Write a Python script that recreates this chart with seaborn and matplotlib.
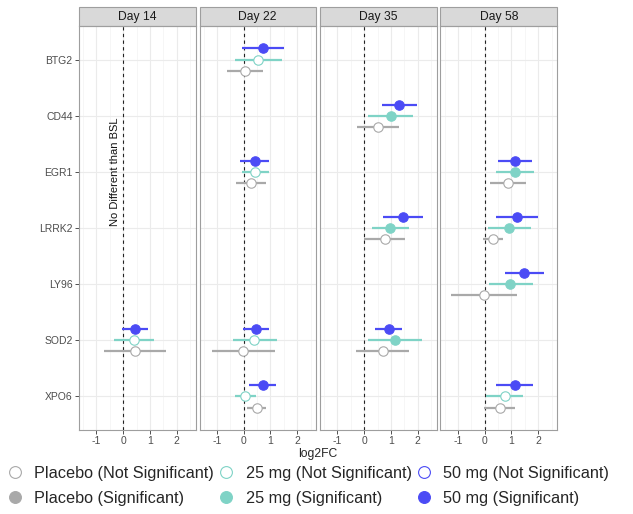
import pandas as pd
import seaborn as sns
import matplotlib.pyplot as plt
from matplotlib.lines import Line2D
from matplotlib.patches import Rectangle

# Genes (top to bottom) and time point panels
genes = ['BTG2', 'CD44', 'EGR1', 'LRRK2', 'LY96', 'SOD2', 'XPO6']
days = ['Day 14', 'Day 22', 'Day 35', 'Day 58']
doses = ['Placebo', '25 mg', '50 mg']
dose_colors = {'Placebo': '#A9A9A9', '25 mg': '#7FD3C6', '50 mg': '#4B4BF5'}
dose_offset = {'50 mg': -0.2, '25 mg': 0.0, 'Placebo': 0.2}

# Estimates: log2FC with lower / upper bounds
row_day = ['Day 14'] * 3 + ['Day 22'] * 12 + ['Day 35'] * 9 + ['Day 58'] * 12
row_gene = (['SOD2'] * 3
            + ['BTG2'] * 3 + ['EGR1'] * 3 + ['SOD2'] * 3 + ['XPO6'] * 3
            + ['CD44'] * 3 + ['LRRK2'] * 3 + ['SOD2'] * 3
            + ['EGR1'] * 3 + ['LRRK2'] * 3 + ['LY96'] * 3 + ['XPO6'] * 3)
row_dose = ['50 mg', '25 mg', 'Placebo'] * 12
row_fc = [0.43, 0.41, 0.43,
          0.71, 0.55, 0.05, 0.41, 0.44, 0.28, 0.46, 0.40, -0.01, 0.71, 0.06, 0.48,
          1.31, 0.99, 0.51, 1.44, 0.98, 0.79, 0.91, 1.14, 0.69,
          1.12, 1.14, 0.86, 1.22, 0.91, 0.31, 1.47, 0.96, -0.01, 1.12, 0.74, 0.56]
row_lo = [-0.04, -0.33, -0.71,
          -0.08, -0.33, -0.63, -0.14, -0.06, -0.29, -0.01, -0.41, -1.20, 0.21, -0.31, 0.13,
          0.66, 0.16, -0.28, 0.69, 0.28, 0.00, 0.40, 0.13, -0.31,
          0.51, 0.43, 0.20, 0.43, 0.11, -0.05, 0.75, 0.16, -1.26, 0.44, 0.04, -0.04]
row_hi = [0.91, 1.15, 1.61,
          1.50, 1.43, 0.71, 0.96, 0.94, 0.84, 0.96, 1.23, 1.18, 1.21, 0.46, 0.84,
          1.96, 1.81, 1.31, 2.20, 1.69, 1.53, 1.41, 2.16, 1.69,
          1.75, 1.84, 1.54, 1.98, 1.72, 0.68, 2.22, 1.79, 1.21, 1.81, 1.44, 1.14]
row_sig = [True, False, False,
           True, False, False, True, False, False, True, False, False, True, False, False,
           True, True, False, True, True, False, True, True, False,
           True, True, False, True, True, False, True, True, False, True, False, False]

df = pd.DataFrame({'day': row_day, 'gene': row_gene, 'dose': row_dose,
                   'log2FC': row_fc, 'lo': row_lo, 'hi': row_hi, 'sig': row_sig})
df['y'] = df['gene'].map({g: i for i, g in enumerate(genes)}) + df['dose'].map(dose_offset)

sns.set_theme(style='white')
plt.rcParams['font.family'] = ['Liberation Sans', 'DejaVu Sans']

fig = plt.figure(figsize=(6.33, 5.14), dpi=100)
W, H = 633, 514
left0, step, pw = 79, 120.5, 116.5
top, bottom = 26, 430
strip_h = 19 / (bottom - top)

for k, day in enumerate(days):
    ax = fig.add_axes([(left0 + k * step) / W, 1 - bottom / H, pw / W, (bottom - top) / H])
    sub = df[df['day'] == day]

    # grid
    ax.set_xticks([-1, 0, 1, 2])
    ax.set_xticks([-1.5, -0.5, 0.5, 1.5, 2.5], minor=True)
    ax.set_yticks(range(len(genes)))
    ax.grid(True, which='major', color='#EBEBEB', lw=0.8)
    ax.grid(True, which='minor', axis='x', color='#F3F3F3', lw=0.5)
    ax.set_axisbelow(True)

    ax.axvline(0, color='#222222', ls=(0, (3, 3)), lw=0.8, zorder=1)

    # error bars
    for dose in doses:
        part = sub[sub['dose'] == dose]
        ax.hlines(part['y'], part['lo'], part['hi'], colors=dose_colors[dose], lw=1.6, zorder=2)

    # points: filled when significant, open otherwise
    for dose in doses:
        for sig in (False, True):
            part = sub[(sub['dose'] == dose) & (sub['sig'] == sig)]
            if part.empty:
                continue
            sns.scatterplot(data=part, x='log2FC', y='y', ax=ax, s=46,
                            color=dose_colors[dose] if sig else 'white',
                            edgecolor=dose_colors[dose], linewidth=0.8,
                            zorder=3, legend=False)

    if k == 0:
        ax.text(-0.31, 2, 'No Different than BSL', rotation=90, ha='center',
                va='center', fontsize=8, color='#111111')

    ax.set_xlim(-1.65, 2.7)
    ax.set_ylim(6.6, -0.6)
    ax.set_xlabel('')
    ax.set_ylabel('')
    ax.set_xticklabels(['-1', '0', '1', '2'])
    if k == 0:
        ax.set_yticklabels(genes)
        ax.tick_params(axis='y', left=True, length=3, width=0.6, color='#333333',
                       labelsize=7.5, labelcolor='#4D4D4D', pad=1.5)
    else:
        ax.set_yticklabels([])
        ax.tick_params(axis='y', left=False)
    ax.tick_params(axis='x', which='major', bottom=True, length=3, width=0.6,
                   color='#333333', labelsize=7.5, labelcolor='#4D4D4D', pad=1.5)
    ax.tick_params(axis='x', which='minor', bottom=False)
    for sp in ax.spines.values():
        sp.set_color('#9E9E9E')
        sp.set_linewidth(0.8)

    # facet strip
    ax.add_patch(Rectangle((0, 1), 1, strip_h, transform=ax.transAxes, clip_on=False,
                           facecolor='#D9D9D9', edgecolor='#9E9E9E', lw=0.8))
    ax.text(0.5, 1 + strip_h / 2, day, transform=ax.transAxes, ha='center',
            va='center', fontsize=8.7, color='#1A1A1A')

fig.text(318 / W, 1 - 454 / H, 'log2FC', ha='center', va='center', fontsize=8.7)

# legend
handles, labels = [], []
for dose in doses:
    for sig in (False, True):
        handles.append(Line2D([], [], ls='', marker='o', markersize=8.5,
                              markerfacecolor=dose_colors[dose] if sig else 'white',
                              markeredgecolor=dose_colors[dose], markeredgewidth=0.8))
        labels.append(f"{dose} ({'Significant' if sig else 'Not Significant'})")
fig.legend(handles, labels, ncol=3, loc='center', bbox_to_anchor=(308 / W, 1 - 486 / H),
           frameon=False, fontsize=11.7, handletextpad=0.7, columnspacing=0.25,
           labelspacing=0.6, handlelength=1.0)

plt.savefig('out.png', dpi=100)
plt.close()
